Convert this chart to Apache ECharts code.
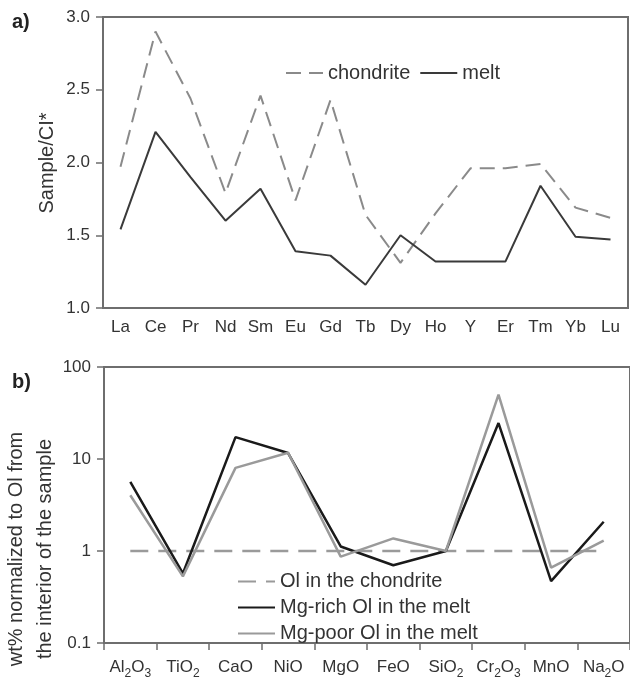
<!DOCTYPE html>
<html>
<head>
<meta charset="utf-8">
<script src="https://cdn.jsdelivr.net/npm/echarts@6/dist/echarts.min.js"></script>
<style>
html,body{margin:0;padding:0;background:#fff;}
#c{width:630px;height:680px;}
</style>
</head>
<body>
<div id="c"></div>
<script>
// ---- Panel a) data ----
const reeCats = ['La','Ce','Pr','Nd','Sm','Eu','Gd','Tb','Dy','Ho','Y','Er','Tm','Yb','Lu'];
const chondriteREE = [1.97,2.90,2.44,1.79,2.46,1.74,2.43,1.64,1.31,1.65,1.96,1.96,1.99,1.69,1.62];
const meltREE = [1.54,2.21,1.90,1.60,1.82,1.39,1.36,1.16,1.50,1.32,1.32,1.32,1.84,1.49,1.47];
const reeTicks = [1.0,1.5,2.0,2.5,3.0];

// ---- Panel b) data ----
const oxideCats = ['Al2O3','TiO2','CaO','NiO','MgO','FeO','SiO2','Cr2O3','MnO','Na2O'];
const olChondrite = [1,1,1,1,1,1,1,1,1,1];
const mgRichOl = [5.65,0.57,17.3,11.6,1.12,0.70,1.0,24.6,0.47,2.08];
const mgPoorOl = [4.04,0.53,8.0,11.7,0.87,1.37,1.0,50,0.66,1.30];
const oxideTicks = [0.1,1,10,100];

const FONT = '"Liberation Sans", Arial, sans-serif';
const TXT = '#333';
const AX = '#6e6e6e';

function oxideLabel(s){
  return s.replace(/([A-Za-z]+)|(\d+)/g, (m, a, d) => a ? '{n|' + a + '}' : '{s|' + d + '}');
}

const chart = echarts.init(document.getElementById('c'), null, {renderer:'canvas'});
chart.setOption({
  animation:false,
  backgroundColor:'#fff',
  textStyle:{fontFamily:FONT},
  grid:[
    {left:103, top:17, width:525, height:291, show:true, borderColor:AX, borderWidth:2, backgroundColor:'transparent'},
    {left:104, top:367, width:527, height:277, show:true, borderColor:AX, borderWidth:2, backgroundColor:'transparent'}
  ],
  xAxis:[
    {type:'category', gridIndex:0, data:reeCats, boundaryGap:true,
      axisLine:{lineStyle:{color:AX,width:2}}, axisTick:{show:false},
      axisLabel:{color:TXT, fontSize:17, margin:11, fontFamily:FONT, interval:0}},
    {type:'category', gridIndex:1, data:oxideCats, boundaryGap:true,
      axisLine:{lineStyle:{color:AX,width:2}}, axisTick:{show:true, length:7, interval:0, lineStyle:{color:AX,width:1.5}},
      axisLabel:{color:TXT, fontSize:17, margin:13, fontFamily:FONT, interval:0,
        formatter:(v)=>oxideLabel(v),
        rich:{n:{fontSize:17, color:TXT, fontFamily:FONT, lineHeight:20, verticalAlign:'bottom'},
              s:{fontSize:12, color:TXT, fontFamily:FONT, lineHeight:20, verticalAlign:'bottom', padding:[0,0,-4,0]}}}}
  ],
  yAxis:[
    {type:'value', gridIndex:0, min:reeTicks[0], max:reeTicks[reeTicks.length-1], interval:0.5,
      axisLine:{show:true, lineStyle:{color:AX,width:2}}, axisTick:{show:true, length:7, lineStyle:{color:AX,width:1.5}},
      splitLine:{show:false},
      axisLabel:{color:TXT, fontSize:17, margin:13, fontFamily:FONT, formatter:(v)=>v.toFixed(1)}},
    {type:'log', gridIndex:1, logBase:10, min:oxideTicks[0], max:oxideTicks[oxideTicks.length-1],
      axisLine:{show:true, lineStyle:{color:AX,width:2}}, axisTick:{show:true, length:7, lineStyle:{color:AX,width:1.5}},
      splitLine:{show:false}, minorTick:{show:false},
      axisLabel:{color:TXT, fontSize:17, margin:13, fontFamily:FONT, formatter:(v)=>String(+v.toPrecision(3))}}
  ],
  legend:[
    {left:285, top:63, padding:0, itemWidth:37, itemHeight:14, itemGap:9, data:['chondrite','melt'],
      itemStyle:{opacity:0},
      textStyle:{fontSize:20, color:TXT, fontFamily:FONT}},
    {left:237, top:571, padding:0, orient:'vertical', itemWidth:37, itemHeight:14, itemGap:5,
      itemStyle:{opacity:0},
      data:['Ol in the chondrite','Mg-rich Ol in the melt','Mg-poor Ol in the melt'],
      textStyle:{fontSize:20, color:TXT, fontFamily:FONT, lineHeight:21}}
  ],
  series:[
    {name:'chondrite', type:'line', xAxisIndex:0, yAxisIndex:0, data:chondriteREE, symbol:'none',
      color:'#8a8a8a', lineStyle:{color:'#8a8a8a', width:2, type:[15,8]}},
    {name:'melt', type:'line', xAxisIndex:0, yAxisIndex:0, data:meltREE, symbol:'none',
      color:'#3a3a3a', lineStyle:{color:'#3a3a3a', width:2}},
    {name:'Ol in the chondrite', type:'line', xAxisIndex:1, yAxisIndex:1, data:olChondrite, symbol:'none',
      color:'#9a9a9a', lineStyle:{color:'#9a9a9a', width:2.5, type:[18,10]}},
    {name:'Mg-rich Ol in the melt', type:'line', xAxisIndex:1, yAxisIndex:1, data:mgRichOl, symbol:'none',
      color:'#1a1a1a', lineStyle:{color:'#1a1a1a', width:2.5}},
    {name:'Mg-poor Ol in the melt', type:'line', xAxisIndex:1, yAxisIndex:1, data:mgPoorOl, symbol:'none',
      color:'#9a9a9a', lineStyle:{color:'#9a9a9a', width:2.5}}
  ],
  graphic:[
    {type:'text', left:12, top:12, style:{text:'a)', font:'bold 20px ' + FONT, fill:'#222'}},
    {type:'text', left:12, top:372, style:{text:'b)', font:'bold 20px ' + FONT, fill:'#222'}},
    {type:'text', x:47, y:163, rotation:Math.PI/2,
      style:{text:'Sample/CI*', font:'20px ' + FONT, fill:TXT, align:'center', verticalAlign:'middle'}},
    {type:'text', x:31, y:549, rotation:Math.PI/2,
      style:{text:'wt% normalized to Ol from\nthe interior of the sample', font:'20px ' + FONT, fill:TXT,
        align:'center', verticalAlign:'middle', lineHeight:29}}
  ]
});
</script>
</body>
</html>
